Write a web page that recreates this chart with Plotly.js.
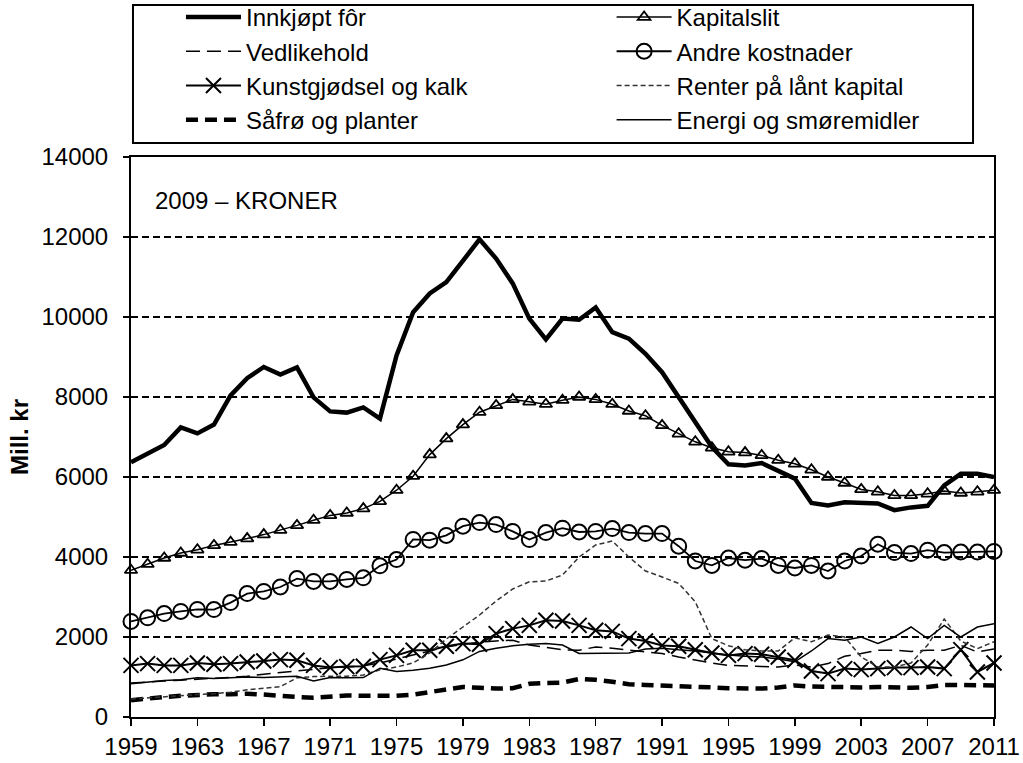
<!DOCTYPE html>
<html>
<head>
<meta charset="utf-8">
<script src="https://cdn.plot.ly/plotly-3.0.1.min.js"></script>
<style>html,body{margin:0;padding:0;background:#fff;}#chart{width:1023px;height:763px;}</style>
</head>
<body>
<div id="chart"></div>
<script>
const years = [1959,1960,1961,1962,1963,1964,1965,1966,1967,1968,1969,1970,1971,1972,1973,1974,1975,1976,1977,1978,1979,1980,1981,1982,1983,1984,1985,1986,1987,1988,1989,1990,1991,1992,1993,1994,1995,1996,1997,1998,1999,2000,2001,2002,2003,2004,2005,2006,2007,2008,2009,2010,2011];

const innkjoptFor = [6370,6570,6800,7240,7090,7310,8040,8470,8750,8560,8740,7990,7640,7610,7740,7460,9040,10120,10590,10870,11420,11940,11460,10840,9960,9440,9960,9930,10240,9620,9460,9080,8620,7990,7370,6750,6320,6290,6350,6170,5960,5350,5290,5370,5350,5340,5170,5240,5280,5790,6080,6080,6000];

const kapitalslit = [3670,3820,3975,4100,4180,4290,4370,4460,4560,4670,4790,4920,5040,5100,5210,5390,5670,6020,6560,6960,7310,7620,7790,7940,7880,7820,7920,8000,7940,7820,7650,7530,7290,7080,6880,6730,6630,6610,6540,6420,6330,6180,6000,5850,5690,5630,5540,5540,5580,5650,5600,5630,5670];

const vedlikehold = [850,880,900,920,950,970,990,1020,1070,1110,1150,1200,1230,1250,1280,1350,1450,1550,1650,1750,1820,1870,1900,1920,1800,1740,1680,1670,1750,1720,1670,1620,1585,1500,1420,1350,1290,1270,1260,1250,1300,1250,1335,1520,1585,1670,1670,1640,1670,1670,1790,1625,1700];

const andreKostnader = [2390,2480,2585,2640,2690,2685,2860,3085,3140,3250,3460,3390,3390,3440,3480,3780,3935,4440,4420,4540,4770,4860,4810,4640,4435,4610,4720,4625,4640,4710,4610,4585,4585,4270,3900,3790,3975,3920,3960,3790,3725,3790,3650,3900,4025,4320,4110,4085,4170,4110,4125,4125,4140];

const kunstgjodsel = [1290,1335,1290,1290,1350,1320,1335,1375,1400,1435,1420,1290,1235,1260,1270,1435,1540,1670,1670,1770,1835,1820,2085,2210,2290,2420,2400,2290,2170,2140,1960,1900,1790,1770,1680,1600,1540,1585,1570,1500,1420,1150,1085,1210,1185,1210,1235,1235,1250,1210,1685,1125,1350];

const renter = [450,480,510,540,560,580,620,680,720,760,980,1010,1020,1020,1050,1180,1250,1350,1600,1950,2250,2550,2900,3200,3380,3400,3550,4000,4300,4400,4000,3650,3500,3340,2880,1960,1780,1680,1650,1650,1980,1880,2050,2000,1500,1250,1250,1350,1800,2450,1900,1710,1880];

const safro = [420,470,500,530,560,570,570,580,560,520,500,480,510,540,530,520,530,560,630,700,750,730,710,720,830,850,860,950,930,880,820,800,790,780,750,740,720,710,710,740,790,760,750,730,740,750,740,730,750,800,800,790,790];

const energi = [830,870,910,930,980,960,975,1000,985,1000,1020,900,985,980,985,1220,1140,1170,1220,1300,1430,1640,1720,1780,1820,1835,1800,1590,1590,1590,1600,1700,1720,1680,1650,1600,1550,1520,1500,1450,1380,1650,1960,1920,2000,1840,2000,2250,1960,2290,2000,2250,2330];

const seriesNames = ['Innkjøpt fôr','Kapitalslit','Vedlikehold','Andre kostnader','Kunstgjødsel og kalk','Renter på lånt kapital','Såfrø og planter','Energi og smøremidler'];
const yTicks = [0,2000,4000,6000,8000,10000,12000,14000];
const xTicks = [1959,1963,1967,1971,1975,1979,1983,1987,1991,1995,1999,2003,2007,2011];

const FONT = 'Liberation Sans, Arial, sans-serif';

function tr(name, y, line, marker, legend) {
  const t = {x: years, y: y, name: name, type: 'scatter', cliponaxis: false, line: line, legend: legend};
  if (marker) { t.mode = 'lines+markers'; t.marker = marker; } else { t.mode = 'lines'; }
  return t;
}

const data = [
  tr(seriesNames[0], innkjoptFor, {color:'#000', width:4.5}, null, 'legend'),
  tr(seriesNames[2], vedlikehold, {color:'#000', width:1.5, dash:'14px,7px'}, null, 'legend'),
  tr(seriesNames[4], kunstgjodsel, {color:'#000', width:2}, {symbol:'x-thin-open', size:15, color:'#000', line:{color:'#000', width:2}}, 'legend'),
  tr(seriesNames[6], safro, {color:'#000', width:4.5, dash:'12px,7px'}, null, 'legend'),
  tr(seriesNames[1], kapitalslit, {color:'#000', width:1.5}, {symbol:'triangle-up-open', size:11, color:'#000', line:{color:'#000', width:1.8}}, 'legend2'),
  tr(seriesNames[3], andreKostnader, {color:'#000', width:1.8}, {symbol:'circle-open', size:15, color:'#000', line:{color:'#000', width:2}}, 'legend2'),
  tr(seriesNames[5], renter, {color:'#333', width:1.5, dash:'5px,3px'}, null, 'legend2'),
  tr(seriesNames[7], energi, {color:'#000', width:1.5}, null, 'legend2')
];

const legendCommon = {
  orientation: 'v', yanchor: 'top', xanchor: 'left',
  bgcolor: 'rgba(0,0,0,0)', borderwidth: 0,
  font: {family: FONT, size: 24, color: '#000'},
  itemwidth: 55, itemclick: false, itemdoubleclick: false
};

const layout = {
  width: 1023, height: 763,
  margin: {l: 131, r: 29, t: 157, b: 46, autoexpand: false},
  paper_bgcolor: '#fff', plot_bgcolor: '#fff',
  font: {family: FONT, size: 24, color: '#000'},
  showlegend: true,
  legend: Object.assign({}, legendCommon, {x: 0.0579, y: 1.2894}),
  legend2: Object.assign({}, legendCommon, {x: 0.5569, y: 1.2894}),
  xaxis: {
    range: [1959, 2011], tickvals: xTicks, ticktext: xTicks.map(String),
    ticks: 'outside', ticklen: 7, tickwidth: 1.5, tickcolor: '#000',
    showline: true, linecolor: '#000', linewidth: 2, mirror: true,
    showgrid: false, zeroline: false,
    tickfont: {family: FONT, size: 24, color: '#000'}
  },
  yaxis: {
    range: [0, 14000], tickvals: yTicks, ticktext: yTicks.map(String),
    ticks: 'outside', ticklen: 6, tickwidth: 1.5, tickcolor: '#000',
    ticklabelstandoff: 10,
    showline: true, linecolor: '#000', linewidth: 2, mirror: true,
    showgrid: true, gridcolor: '#000', gridwidth: 1.5, griddash: '7px,4px',
    zeroline: false,
    tickfont: {family: FONT, size: 24, color: '#000'},
    title: {text: '<b>Mill. kr</b>', font: {family: FONT, size: 24, color: '#000'}, standoff: 6}
  },
  shapes: [{
    type: 'rect', xref: 'paper', yref: 'paper',
    x0: 0.0023, x1: 0.9757, y0: 1.025, y1: 1.2714,
    line: {color: '#000', width: 2}, fillcolor: 'rgba(0,0,0,0)'
  }],
  annotations: [{
    xref: 'paper', yref: 'paper', x: 0.026, y: 0.923, xanchor: 'left', yanchor: 'middle',
    text: '2009 – KRONER', showarrow: false,
    font: {family: FONT, size: 24, color: '#000'}
  }]
};

Plotly.newPlot('chart', data, layout, {displayModeBar: false, staticPlot: true});
</script>
</body>
</html>
